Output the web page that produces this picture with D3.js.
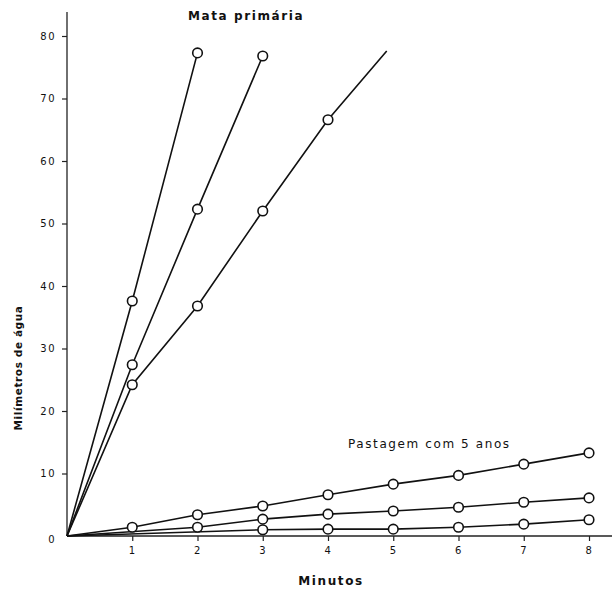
<!DOCTYPE html>
<html>
<head>
<meta charset="utf-8">
<script src="https://cdn.jsdelivr.net/npm/d3@7"></script>
<style>
  body { margin: 0; background: #fff; }
  text { font-family: "DejaVu Sans", sans-serif; fill: #111; }
  .tick text { font-size: 10px; letter-spacing: 1.5px; }
  .label { font-size: 12px; letter-spacing: 1.6px; }
</style>
</head>
<body>
<div id="wrapper"></div>
<script>
// data (minutes vs mm of water)
const mataA = [[0, 0], [1, 37.6], [2, 77.3]];
const mataB = [[0, 0], [1, 27.4], [2, 52.3], [3, 76.8]];
const mataC = [[0, 0], [1, 24.2], [2, 36.8], [3, 52.0], [4, 66.6], [4.9, 77.6]];
const mataCMarked = [1, 2, 3, 4];
const pastTop = [[0, 0], [1, 1.4], [2, 3.4], [3, 4.8], [4, 6.6], [5, 8.3], [6, 9.7], [7, 11.5], [8, 13.3]];
const pastMid = [[0, 0], [2, 1.4], [3, 2.7], [4, 3.5], [5, 4.0], [6, 4.6], [7, 5.4], [8, 6.1]];
const pastLow = [[0, 0], [3, 1.0], [4, 1.1], [5, 1.1], [6, 1.4], [7, 1.9], [8, 2.6]];
const xTicks = [1, 2, 3, 4, 5, 6, 7, 8];
const yTicks = [0, 10, 20, 30, 40, 50, 60, 70, 80];

function drawChart() {
  const width = 612;
  const height = 593;
  const margin = { top: 12, right: 0, bottom: 57, left: 67 };

  const svg = d3.select("#wrapper").append("svg")
    .attr("width", width)
    .attr("height", height);

  const xScale = d3.scaleLinear().domain([0, 8]).range([margin.left, 589]);
  const yScale = d3.scaleLinear().domain([0, 80]).range([536, 36]);

  // axes
  const xAxis = d3.axisBottom(xScale).tickValues(xTicks).tickSize(5).tickPadding(6).tickFormat(d3.format("d"));
  const xg = svg.append("g").attr("transform", `translate(0, ${yScale(0)})`).call(xAxis);
  xg.select(".domain").remove();
  xg.selectAll(".tick line").attr("stroke", "#222").attr("stroke-width", 1.2);

  const yAxis = d3.axisLeft(yScale).tickValues(yTicks).tickSize(5).tickPadding(6).tickFormat(d3.format("d"));
  const yg = svg.append("g").attr("transform", `translate(${margin.left}, 0)`).call(yAxis);
  yg.select(".domain").remove();
  yg.selectAll(".tick line").attr("stroke", "#222").attr("stroke-width", 1.2);
  yg.selectAll(".tick").filter(d => d === 0).select("line").remove();
  yg.selectAll(".tick").filter(d => d === 0).select("text").attr("dy", "0.6em");

  svg.append("line")
    .attr("x1", xScale(0)).attr("x2", width)
    .attr("y1", yScale(0)).attr("y2", yScale(0))
    .attr("stroke", "#222").attr("stroke-width", 1.3);
  svg.append("line")
    .attr("x1", xScale(0)).attr("x2", xScale(0))
    .attr("y1", yScale(0)).attr("y2", margin.top)
    .attr("stroke", "#222").attr("stroke-width", 1.3);

  // series
  const line = d3.line().x(d => xScale(d[0])).y(d => yScale(d[1]));
  const series = [
    { pts: mataA, marked: d => d[0] > 0 },
    { pts: mataB, marked: d => d[0] > 0 },
    { pts: mataC, marked: d => mataCMarked.includes(d[0]) },
    { pts: pastTop, marked: d => d[0] > 0 },
    { pts: pastMid, marked: d => d[0] > 0 },
    { pts: pastLow, marked: d => d[0] > 0 },
  ];

  series.forEach(s => {
    svg.append("path")
      .datum(s.pts)
      .attr("d", line)
      .attr("fill", "none")
      .attr("stroke", "#111")
      .attr("stroke-width", 1.6);
  });

  series.forEach(s => {
    svg.selectAll(null)
      .data(s.pts.filter(s.marked))
      .enter()
      .append("circle")
      .attr("cx", d => xScale(d[0]))
      .attr("cy", d => yScale(d[1]))
      .attr("r", 4.8)
      .attr("fill", "#fff")
      .attr("stroke", "#111")
      .attr("stroke-width", 1.6);
  });

  // labels
  svg.append("text").attr("class", "label")
    .attr("x", 188).attr("y", 20)
    .style("font-weight", "bold")
    .text("Mata primária");
  svg.append("text").attr("class", "label")
    .attr("x", 348).attr("y", 448)
    .text("Pastagem com 5 anos");
  svg.append("text").attr("class", "label")
    .attr("x", 331).attr("y", 585)
    .attr("text-anchor", "middle")
    .style("font-weight", "bold")
    .text("Minutos");
  svg.append("text").attr("class", "label")
    .attr("transform", `translate(22, 368) rotate(-90)`)
    .attr("text-anchor", "middle")
    .style("font-weight", "bold")
    .style("font-size", "10.5px")
    .style("letter-spacing", "0.6px")
    .text("Milímetros de água");
}
drawChart();
</script>
</body>
</html>
